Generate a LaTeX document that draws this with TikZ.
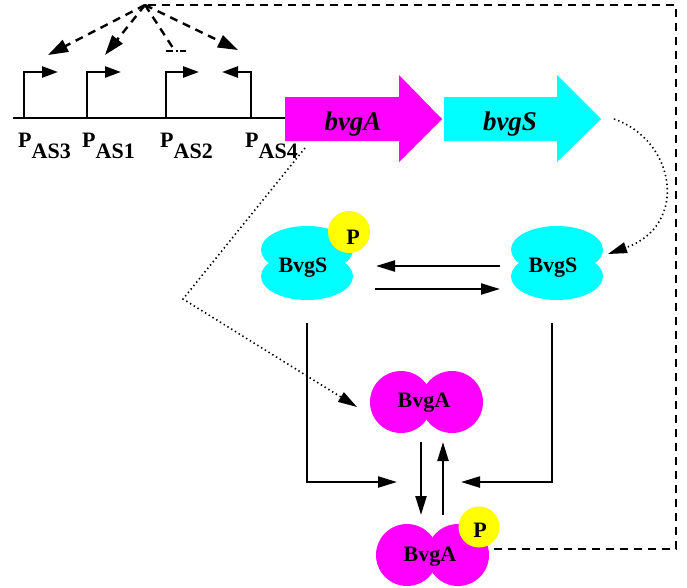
\documentclass[tikz,border=0pt]{standalone}
\usepackage{fontspec}
\setmainfont{Liberation Serif}
\usetikzlibrary{arrows.meta}
\definecolor{genA}{RGB}{255,0,255}
\definecolor{genS}{RGB}{0,255,255}
\definecolor{phos}{RGB}{255,255,0}
\begin{document}
\begin{tikzpicture}[x=1pt,y=-1pt,
  lbl/.style={font=\fontsize{22}{26}\selectfont\bfseries, inner sep=0pt},
  genelbl/.style={font=\fontsize{27}{30}\selectfont\bfseries\itshape, inner sep=0pt, anchor=base},
  tip/.style={-{Triangle[length=19pt,width=11pt]}},
  react/.style={line width=2.2pt, tip},
  regul/.style={line width=2.4pt, dash pattern=on 8pt off 6pt},
  regarrow/.style={regul, -{Triangle[length=20pt,width=13pt]}},
  infl/.style={line width=1.6pt, dash pattern=on 1.4pt off 3pt, -{Triangle[length=19pt,width=11pt]}},
  prom/.style={line width=2.5pt, -{Triangle[length=16pt,width=11pt]}},
]
\useasboundingbox (0,0) rectangle (687,587);

% ---- operon: DNA line, promoters and genes ----
\draw[line width=2.8pt] (13,118) -- (286,118);
\coordinate (hub) at (145,5);

\draw[prom] (24,119) -- (24,72) -- (58,72);
\draw[prom] (87,119) -- (87,72) -- (121,72);
\draw[prom] (166,119) -- (166,72) -- (199,72);
\draw[prom] (251,119) -- (251,72) -- (222,72);

\node[lbl, anchor=base west] (pas3) at (18,147) {P\lower11pt\hbox{AS3}};
\node[lbl, anchor=base west] (pas1) at (82,147) {P\lower11pt\hbox{AS1}};
\node[lbl, anchor=base west] (pas2) at (160,147) {P\lower11pt\hbox{AS2}};
\node[lbl, anchor=base west] (pas4) at (245,147) {P\lower11pt\hbox{AS4}};

\fill[genA] (285,97) -- (399,97) -- (399,75) -- (442,119) -- (399,162) -- (399,141) -- (285,141) -- cycle;
\fill[genS] (444,97) -- (557,97) -- (557,75) -- (601,119) -- (557,162) -- (557,141) -- (444,141) -- cycle;
\node[genelbl] (bvgA) at (353,130) {bvgA};
\node[genelbl] (bvgS) at (510,130) {bvgS};
\coordinate (bvgStip) at (614,119);
\coordinate (bvgAfoot) at (305,148);

% ---- proteins ----
% phosphorylated BvgS
\fill[genS] (307,249.7) ellipse[x radius=46, y radius=23.7];
\fill[genS] (307,276.3) ellipse[x radius=46, y radius=23.7];
\fill[phos] (349,232) circle[radius=21];
\node[lbl, anchor=base] (SP) at (303,272) {BvgS};
\node[lbl, anchor=base] (SPp) at (353,244) {P};
% unphosphorylated BvgS
\fill[genS] (557,249.7) ellipse[x radius=46, y radius=23.7];
\fill[genS] (557,276.3) ellipse[x radius=46, y radius=23.7];
\node[lbl, anchor=base] (S) at (553,272) {BvgS};
% unphosphorylated BvgA
\fill[genA] (401,402) circle[radius=31];
\fill[genA] (452,402) circle[radius=31];
\node[lbl, anchor=base] (A) at (424,407) {BvgA};
% phosphorylated BvgA
\fill[genA] (407,555) circle[radius=31];
\fill[genA] (458,555) circle[radius=31];
\fill[phos] (479,527) circle[radius=20.5];
\node[lbl, anchor=base] (AP) at (430,561) {BvgA};
\node[lbl, anchor=base] (APp) at (480,537) {P};

% ---- reactions ----
\coordinate (sRw1) at (500,266); \coordinate (sLe1) at (376,266);
\coordinate (sLe2) at (375,289); \coordinate (sRw2) at (500,289);
\draw[react] (sRw1) -- (sLe1);
\draw[react] (sLe2) -- (sRw2);

\coordinate (sLb) at (307,323); \coordinate (sRb) at (552,323);
\coordinate (jL) at (397,482);  \coordinate (jR) at (461,482);
\draw[react] (sLb) |- (jL);
\draw[react] (sRb) |- (jR);

\coordinate (aDn1) at (421,442); \coordinate (aDn2) at (421,515);
\coordinate (aUp1) at (443,515); \coordinate (aUp2) at (443,442);
\draw[react] (aDn1) -- (aDn2);
\draw[react] (aUp1) -- (aUp2);

% ---- translation (dotted) ----
\coordinate (SPin) at (608,254);
\draw[infl] (bvgStip) .. controls (675,140) and (690,225) .. (SPin);
\coordinate (bend) at (183,299);
\coordinate (Ain) at (357,407);
\draw[infl] (bvgAfoot) -- (bend) -- (Ain);

% ---- regulation by BvgA~P (dashed) ----
\coordinate (cR) at (676,5);
\coordinate (cB) at (676,549);
\coordinate (APe) at (494,549);
\draw[regul] (APe) -- (cB) -- (cR) -- (hub);
\coordinate (t3) at (48,55);
\coordinate (t1) at (105,55);
\coordinate (t2) at (173,48);
\coordinate (t4) at (238,50);
\draw[regarrow] (hub) -- (t3);
\draw[regarrow] (hub) -- (t1);
\draw[regarrow] (hub) -- (t4);
\draw[regul] (hub) -- (t2);
\coordinate (b2l) at (166,51); \coordinate (b2r) at (186,51);
\draw[line width=2.2pt, dash pattern=on 7pt off 2.5pt on 2pt off 2.5pt on 7pt] (b2l) -- (b2r);
\end{tikzpicture}
\end{document}
